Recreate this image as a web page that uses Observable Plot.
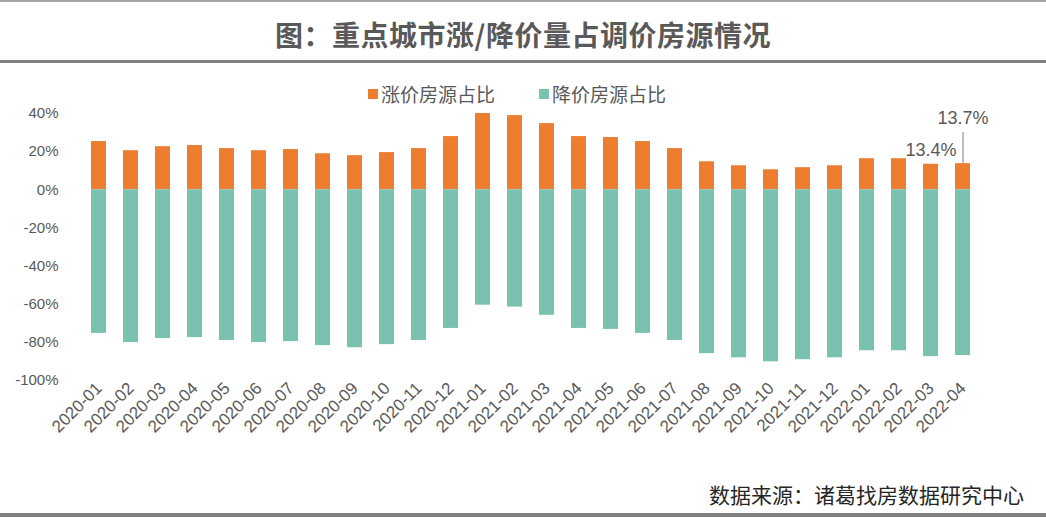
<!DOCTYPE html>
<html><head><meta charset="utf-8">
<script src="https://cdn.jsdelivr.net/npm/d3@7"></script>
<script src="https://cdn.jsdelivr.net/npm/@observablehq/plot@0.6"></script>
<style>
html,body{margin:0;padding:0;background:#fff;}
body{width:1046px;height:518px;position:relative;overflow:hidden;font-family:"Noto Sans CJK SC","Noto Sans",sans-serif;}
#topline{position:absolute;left:0;top:0;width:1046px;height:2px;background:#a6a6a6;}
#title{position:absolute;left:0;top:14px;width:1046px;text-align:center;font-size:28px;font-weight:bold;color:#595959;letter-spacing:0.5px;}
#titleline{position:absolute;left:0;top:60px;width:1046px;height:3px;background:#808080;}
#legend{position:absolute;left:368px;top:80px;font-size:19px;color:#595959;display:flex;gap:0;}
.li{display:flex;align-items:center;margin-right:44px;}
.sw{width:10px;height:10px;margin-right:3px;}
#chart{position:absolute;left:0;top:100px;}
#caption{position:absolute;right:22px;top:479px;font-size:21px;color:#262626;}
#botline{position:absolute;left:0;top:513px;width:1046px;height:4px;background:#808080;}
</style></head>
<body>
<div id="topline"></div>
<div id="title">图：重点城市涨/降价量占调价房源情况</div>
<div id="titleline"></div>
<div id="legend"></div>
<div id="chart"></div>
<div id="caption">数据来源：诸葛找房数据研究中心</div>
<div id="botline"></div>
<script>
const months = ["2020-01","2020-02","2020-03","2020-04","2020-05","2020-06","2020-07","2020-08","2020-09","2020-10","2020-11","2020-12",
"2021-01","2021-02","2021-03","2021-04","2021-05","2021-06","2021-07","2021-08","2021-09","2021-10","2021-11","2021-12",
"2022-01","2022-02","2022-03","2022-04"];
const upShare = [25.3,20.5,22.6,23.2,21.6,20.5,21.1,18.9,17.9,19.5,21.6,27.9,40.0,38.9,34.7,27.9,27.4,25.3,21.6,14.7,12.6,10.5,11.6,12.6,16.3,16.3,13.4,13.7];
const downShare = [-75.3,-80.1,-78.0,-77.5,-79.0,-80.1,-79.6,-81.7,-82.8,-81.2,-79.0,-72.7,-60.5,-61.5,-65.8,-72.7,-73.2,-75.3,-79.0,-85.9,-88.1,-90.2,-89.1,-88.1,-84.4,-84.4,-87.5,-86.9];
const seriesNames = ["涨价房源占比","降价房源占比"];
const seriesColors = ["#ED7D31","#7AC1B0"];
const yTicks = [-100,-80,-60,-40,-20,0,20,40];
const labelled = [
  {month:"2022-03", value:13.4, labelAt:13.4, text:"13.4%"},
  {month:"2022-04", value:13.7, labelAt:30.0, text:"13.7%"}
];
const leader = [{month:"2022-04", from:13.7, to:30.0}];

const up = months.map((m,i)=>({month:m, value:upShare[i]}));
const down = months.map((m,i)=>({month:m, value:downShare[i]}));

// legend
const lg = document.getElementById("legend");
seriesNames.forEach((n,i)=>{
  const d=document.createElement("div");d.className="li";
  d.innerHTML=`<span class="sw" style="background:${seriesColors[i]}"></span><span>${n}</span>`;
  lg.appendChild(d);
});

const chart = Plot.plot({
  width: 1046,
  height: 360,
  marginLeft: 70,
  marginRight: 56,
  marginTop: 13,
  marginBottom: 80,
  style: {fontFamily: "'Liberation Sans','Noto Sans CJK SC',sans-serif", fontSize: "15px", color: "#595959", background: "transparent"},
  x: {domain: months, padding: 0.54, label: null, tickSize: 0, tickRotate: -45, tickPadding: 5},
  y: {domain: [-100, 40], ticks: yTicks, tickFormat: d => d + "%", label: null, tickSize: 0, tickPadding: 12},
  marks: [
    Plot.barY(up, {x: "month", y1: 0, y2: "value", fill: seriesColors[0]}),
    Plot.barY(down, {x: "month", y1: 0, y2: "value", fill: seriesColors[1]}),
    Plot.ruleX(leader, {x: "month", y1: "from", y2: "to", stroke: "#7f7f7f", strokeWidth: 1}),
    Plot.text(labelled, {x: "month", y: "labelAt", text: "text", dy: -14, fill: "#595959", fontSize: 18}),
    Plot.axisX({tickSize: 0, tickRotate: -45, tickPadding: 5, fontSize: 17, label: null})
  ]
});
document.getElementById("chart").appendChild(chart);
</script>
</body></html>
